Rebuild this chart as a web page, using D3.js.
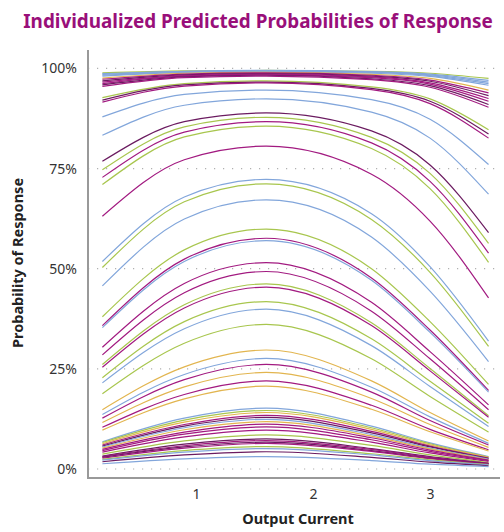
<!DOCTYPE html>
<html>
<head>
<meta charset="utf-8">
<script src="https://cdn.jsdelivr.net/npm/d3@7"></script>
<style>
  body { margin: 0; background: #fff; }
  svg { display: block; font-family: 'Noto Sans', sans-serif; }
</style>
</head>
<body>
<svg id="chart" width="504" height="532"></svg>
<script>
const xGrid = [0.2, 0.9, 1.6, 2.5, 3.0, 3.5];
const xTicks = [1, 2, 3];
const yTicks = [0, 0.25, 0.5, 0.75, 1];

const palette = { b: '#82a6db', g: '#a8c64e', y: '#e2b54f', m: '#a21a80', d: '#6b1b60' };

// one colour key per individual
const seriesColor = [
  'g', 'b', 'b', 'b', 'b', 'y', 'm', 'd', 'm', 'm', 'd', 'm', 'g', 'd', 'm',
  'b', 'b', 'd', 'g', 'm', 'g', 'm', 'b', 'g', 'b', 'g', 'm', 'b', 'm', 'm',
  'g', 'm', 'g', 'b', 'g', 'y', 'b', 'm', 'y', 'm', 'y',
  'b', 'g', 'y', 'm', 'd', 'b', 'y', 'm', 'm', 'm', 'g', 'd', 'm', 'd', 'm',
  'g', 'b', 'd', 'b',
];

// predicted probability of each individual at the xGrid points
const seriesValues = [
  [0.989, 0.994, 0.995, 0.993, 0.988, 0.975],
  [0.987, 0.993, 0.995, 0.992, 0.986, 0.970],
  [0.985, 0.992, 0.994, 0.991, 0.984, 0.966],
  [0.983, 0.991, 0.993, 0.990, 0.982, 0.962],
  [0.981, 0.990, 0.992, 0.988, 0.980, 0.958],
  [0.976, 0.988, 0.990, 0.985, 0.975, 0.946],
  [0.973, 0.986, 0.989, 0.983, 0.971, 0.939],
  [0.969, 0.984, 0.987, 0.981, 0.968, 0.932],
  [0.966, 0.982, 0.986, 0.979, 0.964, 0.925],
  [0.962, 0.981, 0.984, 0.977, 0.961, 0.918],
  [0.959, 0.979, 0.983, 0.974, 0.957, 0.910],
  [0.955, 0.977, 0.981, 0.972, 0.953, 0.903],
  [0.927, 0.962, 0.969, 0.954, 0.924, 0.847],
  [0.921, 0.959, 0.966, 0.950, 0.918, 0.836],
  [0.916, 0.956, 0.964, 0.947, 0.912, 0.826],
  [0.879, 0.935, 0.946, 0.922, 0.873, 0.760],
  [0.833, 0.908, 0.924, 0.891, 0.826, 0.686],
  [0.768, 0.867, 0.889, 0.844, 0.759, 0.590],
  [0.747, 0.854, 0.878, 0.828, 0.738, 0.563],
  [0.728, 0.841, 0.867, 0.814, 0.718, 0.539],
  [0.710, 0.829, 0.856, 0.800, 0.700, 0.516],
  [0.631, 0.772, 0.806, 0.736, 0.619, 0.427],
  [0.518, 0.679, 0.723, 0.637, 0.505, 0.319],
  [0.503, 0.667, 0.712, 0.623, 0.491, 0.306],
  [0.457, 0.624, 0.672, 0.579, 0.444, 0.268],
  [0.380, 0.547, 0.599, 0.500, 0.368, 0.211],
  [0.358, 0.524, 0.576, 0.477, 0.347, 0.196],
  [0.353, 0.518, 0.570, 0.471, 0.341, 0.192],
  [0.304, 0.463, 0.515, 0.416, 0.293, 0.160],
  [0.285, 0.440, 0.493, 0.394, 0.275, 0.148],
  [0.261, 0.410, 0.462, 0.365, 0.251, 0.133],
  [0.254, 0.402, 0.454, 0.358, 0.245, 0.129],
  [0.228, 0.368, 0.418, 0.325, 0.219, 0.114],
  [0.215, 0.350, 0.399, 0.308, 0.206, 0.106],
  [0.188, 0.314, 0.361, 0.275, 0.181, 0.092],
  [0.148, 0.255, 0.297, 0.220, 0.141, 0.070],
  [0.136, 0.236, 0.276, 0.204, 0.130, 0.064],
  [0.127, 0.223, 0.261, 0.192, 0.121, 0.060],
  [0.116, 0.205, 0.241, 0.176, 0.111, 0.054],
  [0.104, 0.186, 0.220, 0.159, 0.099, 0.048],
  [0.097, 0.175, 0.207, 0.149, 0.093, 0.045],
  [0.068, 0.127, 0.152, 0.107, 0.065, 0.031],
  [0.066, 0.122, 0.146, 0.103, 0.063, 0.030],
  [0.063, 0.117, 0.141, 0.099, 0.060, 0.029],
  [0.060, 0.111, 0.134, 0.094, 0.057, 0.027],
  [0.057, 0.107, 0.129, 0.090, 0.055, 0.026],
  [0.055, 0.103, 0.124, 0.086, 0.052, 0.025],
  [0.052, 0.098, 0.118, 0.082, 0.050, 0.023],
  [0.049, 0.092, 0.112, 0.078, 0.047, 0.022],
  [0.046, 0.087, 0.105, 0.073, 0.044, 0.021],
  [0.042, 0.080, 0.097, 0.067, 0.040, 0.019],
  [0.037, 0.070, 0.085, 0.059, 0.035, 0.016],
  [0.032, 0.062, 0.075, 0.051, 0.031, 0.014],
  [0.031, 0.058, 0.071, 0.049, 0.029, 0.014],
  [0.029, 0.055, 0.067, 0.046, 0.027, 0.013],
  [0.027, 0.052, 0.064, 0.044, 0.026, 0.012],
  [0.024, 0.046, 0.056, 0.038, 0.023, 0.011],
  [0.022, 0.042, 0.051, 0.035, 0.021, 0.010],
  [0.018, 0.035, 0.043, 0.029, 0.017, 0.008],
  [0.013, 0.025, 0.031, 0.021, 0.012, 0.006],
];

const svg = d3.select('#chart');

const plotLeft = 88;
const plotRight = 500;
const plotTop = 50;
const plotBottom = 478;

const x = d3.scaleLinear().domain([0.077, 3.598]).range([plotLeft, plotRight]);
const y = d3.scaleLinear().domain([-0.0225, 1.046]).range([plotBottom, plotTop]);

// dotted horizontal grid
svg.append('g')
  .selectAll('line')
  .data(yTicks)
  .enter()
  .append('line')
  .attr('x1', plotLeft)
  .attr('x2', plotRight)
  .attr('y1', (d) => y(d))
  .attr('y2', (d) => y(d))
  .attr('stroke', '#b0b0b0')
  .attr('stroke-width', 1.2)
  .attr('stroke-dasharray', '1.2,7.8');

const line = d3.line()
  .x((d, i) => x(xGrid[i]))
  .y((d) => y(d))
  .curve(d3.curveMonotoneX);

svg.append('g')
  .selectAll('path')
  .data(seriesValues)
  .enter()
  .append('path')
  .attr('d', (d) => line(d))
  .attr('fill', 'none')
  .attr('stroke', (d, i) => palette[seriesColor[i]])
  .attr('stroke-width', 1.2);

// axes: labels only, the axis lines are drawn separately
const yAxis = svg.append('g')
  .attr('transform', `translate(${plotLeft},0)`)
  .call(d3.axisLeft(y).tickValues(yTicks).tickFormat(d3.format('.0%')).tickSize(0).tickPadding(11));

const xAxis = svg.append('g')
  .attr('transform', `translate(0,${plotBottom})`)
  .call(d3.axisBottom(x).tickValues(xTicks).tickFormat(d3.format('d')).tickSize(0).tickPadding(11));

[yAxis, xAxis].forEach((g) => {
  g.select('.domain').remove();
  g.selectAll('text')
    .attr('font-family', "'Noto Sans', sans-serif")
    .attr('font-size', 14)
    .attr('fill', '#333');
});

svg.append('line')
  .attr('x1', plotLeft).attr('x2', plotLeft)
  .attr('y1', plotTop).attr('y2', plotBottom + 1)
  .attr('stroke', '#999').attr('stroke-width', 2);

svg.append('line')
  .attr('x1', plotLeft - 1).attr('x2', plotRight)
  .attr('y1', plotBottom).attr('y2', plotBottom)
  .attr('stroke', '#999').attr('stroke-width', 2);

// titles
const title = svg.append('text')
  .attr('x', 258)
  .attr('y', 28)
  .attr('text-anchor', 'middle')
  .attr('font-size', 20)
  .attr('font-weight', 700)
  .attr('fill', '#990f7a')
  .text('Individualized Predicted Probabilities of Response');

// shrink the title to the width it has in the original
const titleWidth = title.node().getComputedTextLength();
if (titleWidth > 470) title.attr('font-size', 20 * 470 / titleWidth);

svg.append('text')
  .attr('x', 298)
  .attr('y', 524)
  .attr('text-anchor', 'middle')
  .attr('font-size', 14.5)
  .attr('font-weight', 700)
  .attr('fill', '#222')
  .text('Output Current');

svg.append('text')
  .attr('transform', 'translate(23,263) rotate(-90)')
  .attr('text-anchor', 'middle')
  .attr('font-size', 14.5)
  .attr('font-weight', 700)
  .attr('fill', '#222')
  .text('Probability of Response');
</script>
</body>
</html>
